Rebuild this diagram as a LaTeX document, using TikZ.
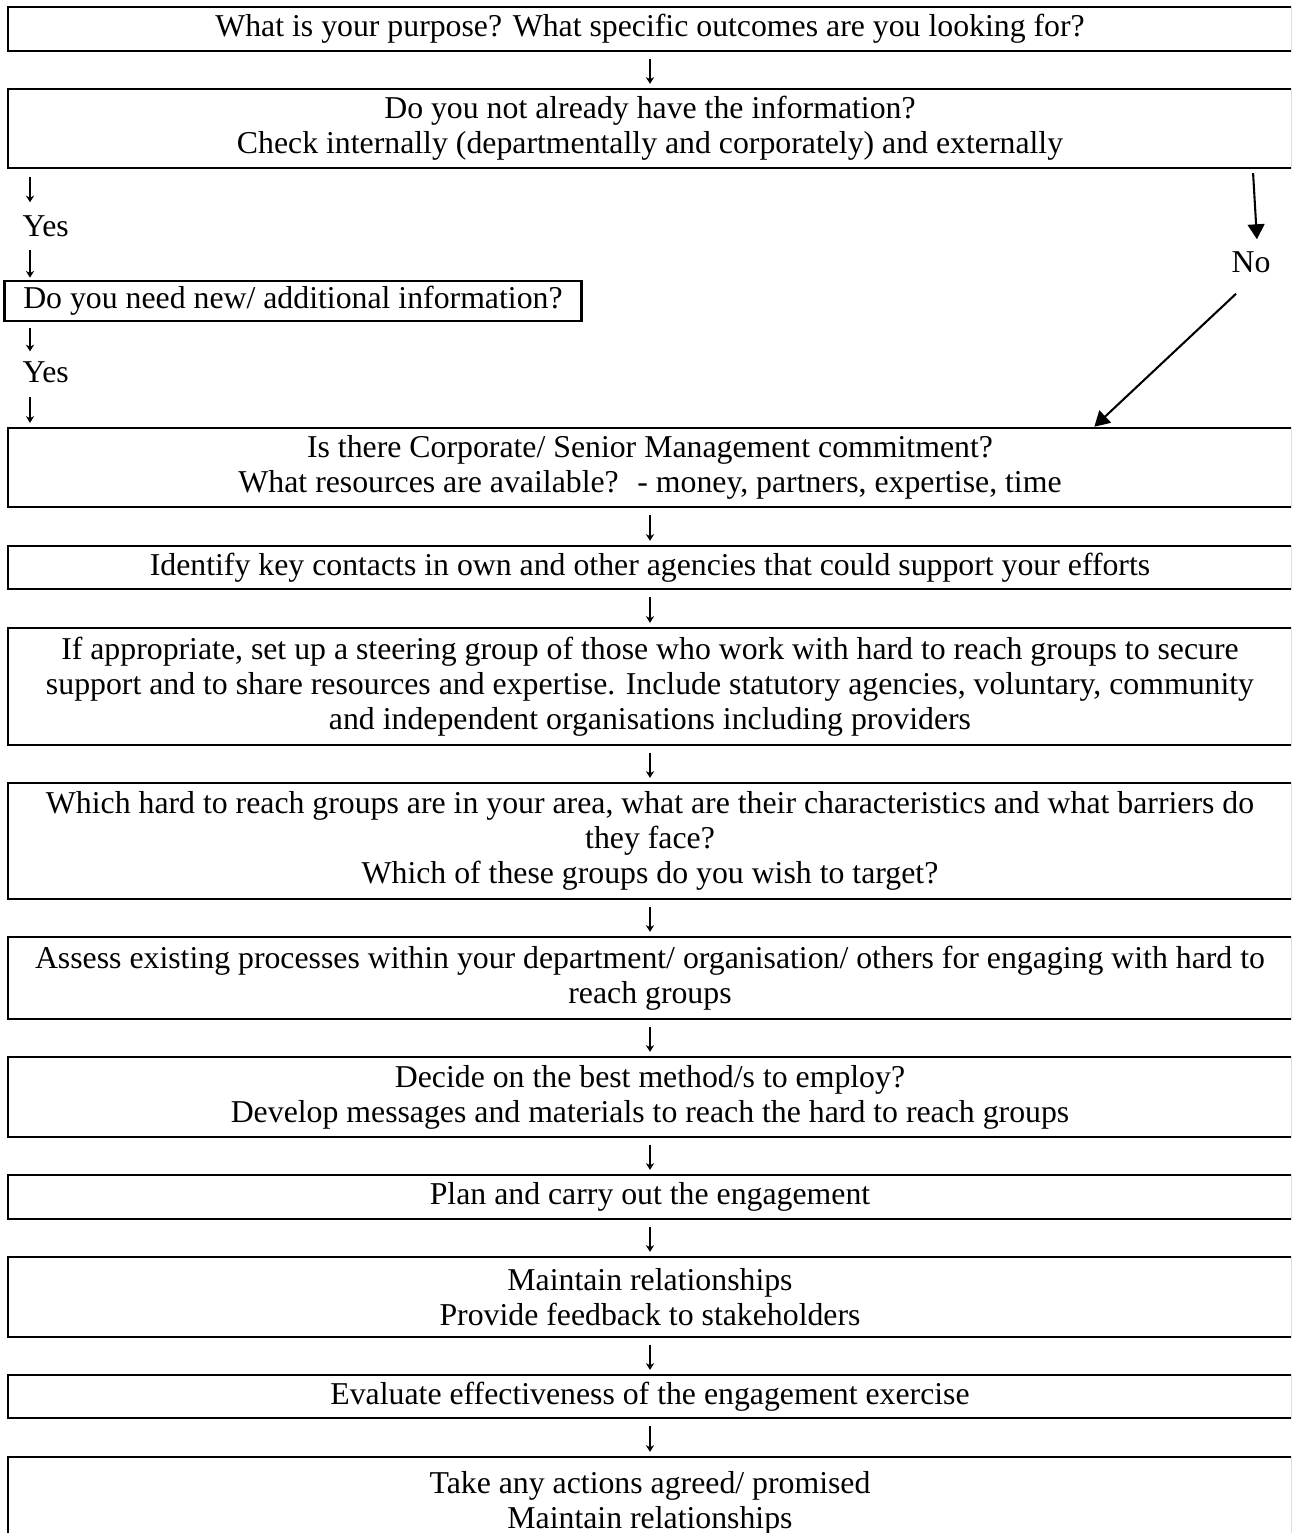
\documentclass[tikz,border=0pt]{standalone}
\usepackage{fontspec}
\setmainfont{Liberation Serif}
\usetikzlibrary{arrows.meta}

\begin{document}
\begin{tikzpicture}[x=0.387pt,y=-0.387pt,
  boite/.style={draw,line width=1pt,minimum width=1284*0.387pt,inner sep=0pt,align=center,font=\fontsize{12.3}{13.5}\selectfont},
  haut/.style={minimum height=#1*0.387pt},
  mot/.style={inner sep=0pt,font=\fontsize{12.3}{13.5}\selectfont},
  fleche/.style={-{Stealth[length=2.6pt,width=3.2pt]},line width=0.5pt},
  grosse/.style={-{Triangle[length=5.8pt,width=6.5pt]},line width=0.8pt}]
  % Paramètres
  \def\xc{650} % centre des boîtes
  \useasboundingbox (0,0) rectangle (1291,1533);
  \clip (0,0) rectangle (1291,1533);

  % Boîtes principales
  \node[boite,haut=44] (b1) at (\xc,29) {What is your purpose? What specific outcomes are you looking for?};
  \node[boite,haut=79] (b2) at (\xc,128.5) {Do you not already have the information?\\Check internally (departmentally and corporately) and externally};
  \node[boite,haut=40,anchor=west,minimum width=0pt,inner xsep=19*0.387pt] (ask) at (3,301) {Do you need new/ additional information?};
  \node[boite,haut=79] (b3) at (\xc,467.5) {Is there Corporate/ Senior Management commitment?\\What resources are available? \ - money, partners, expertise, time};
  \node[boite,haut=43] (b4) at (\xc,567.5) {Identify key contacts in own and other agencies that could support your efforts};
  \node[boite,haut=117] (b5) at (\xc,686.5) {If appropriate, set up a steering group of those who work with hard to reach groups to secure\\support and to share resources and expertise. Include statutory agencies, voluntary, community\\and independent organisations including providers};
  \node[boite,haut=116] (b6) at (\xc,841) {Which hard to reach groups are in your area, what are their characteristics and what barriers do\\they face?\\Which of these groups do you wish to target?};
  \node[boite,haut=82] (b7) at (\xc,978) {Assess existing processes within your department/ organisation/ others for engaging with hard to\\reach groups};
  \node[boite,haut=80] (b8) at (\xc,1097) {Decide on the best method/s to employ?\\Develop messages and materials to reach the hard to reach groups};
  \node[boite,haut=44] (b9) at (\xc,1197) {Plan and carry out the engagement};
  \node[boite,haut=80] (b10) at (\xc,1297) {Maintain relationships\\Provide feedback to stakeholders};
  \node[boite,haut=43] (b11) at (\xc,1396.5) {Evaluate effectiveness of the engagement exercise};
  \node[boite,haut=93] (b12) at (\xc,1503.5) {Take any actions agreed/ promised\\Maintain relationships};

  % Réponses
  \node[mot,anchor=west] (oui1) at (22,226) {Yes};
  \node[mot,anchor=west] (oui2) at (22,372) {Yes};
  \node[mot] (non) at (1251,262) {No};
  \coordinate (gauche) at (30,0);

  % Flèches centrales
  \foreach \a/\b in {b1/b2,b3/b4,b4/b5,b5/b6,b6/b7,b7/b8,b8/b9,b9/b10,b10/b11,b11/b12}
    \draw[fleche,shorten <=2.7pt,shorten >=1.5pt] (\a) -- (\b);

  % Branche Yes
  \draw[fleche,shorten <=3.1pt,shorten >=4.9pt] (b2.south -| gauche) -- (oui1.north -| gauche);
  \draw[fleche,shorten <=4.9pt,shorten >=0.8pt] (oui1.south -| gauche) -- (ask.north -| gauche);
  \draw[fleche,shorten <=2.3pt,shorten >=3.7pt] (ask.south -| gauche) -- (oui2.north -| gauche);
  \draw[fleche,shorten <=5.3pt,shorten >=1.5pt] (oui2.south -| gauche) -- (b3.north -| gauche);

  % Branche No
  \draw[grosse] ([xshift=0.8pt,yshift=-1.5pt]b2.south -| non.north) -- ([xshift=2.3pt,yshift=4.5pt]non.north);
  \draw[grosse] ([xshift=-5.8pt,yshift=-8pt]non.south) -- ([xshift=-77pt]b3.north east);
\end{tikzpicture}
\end{document}
